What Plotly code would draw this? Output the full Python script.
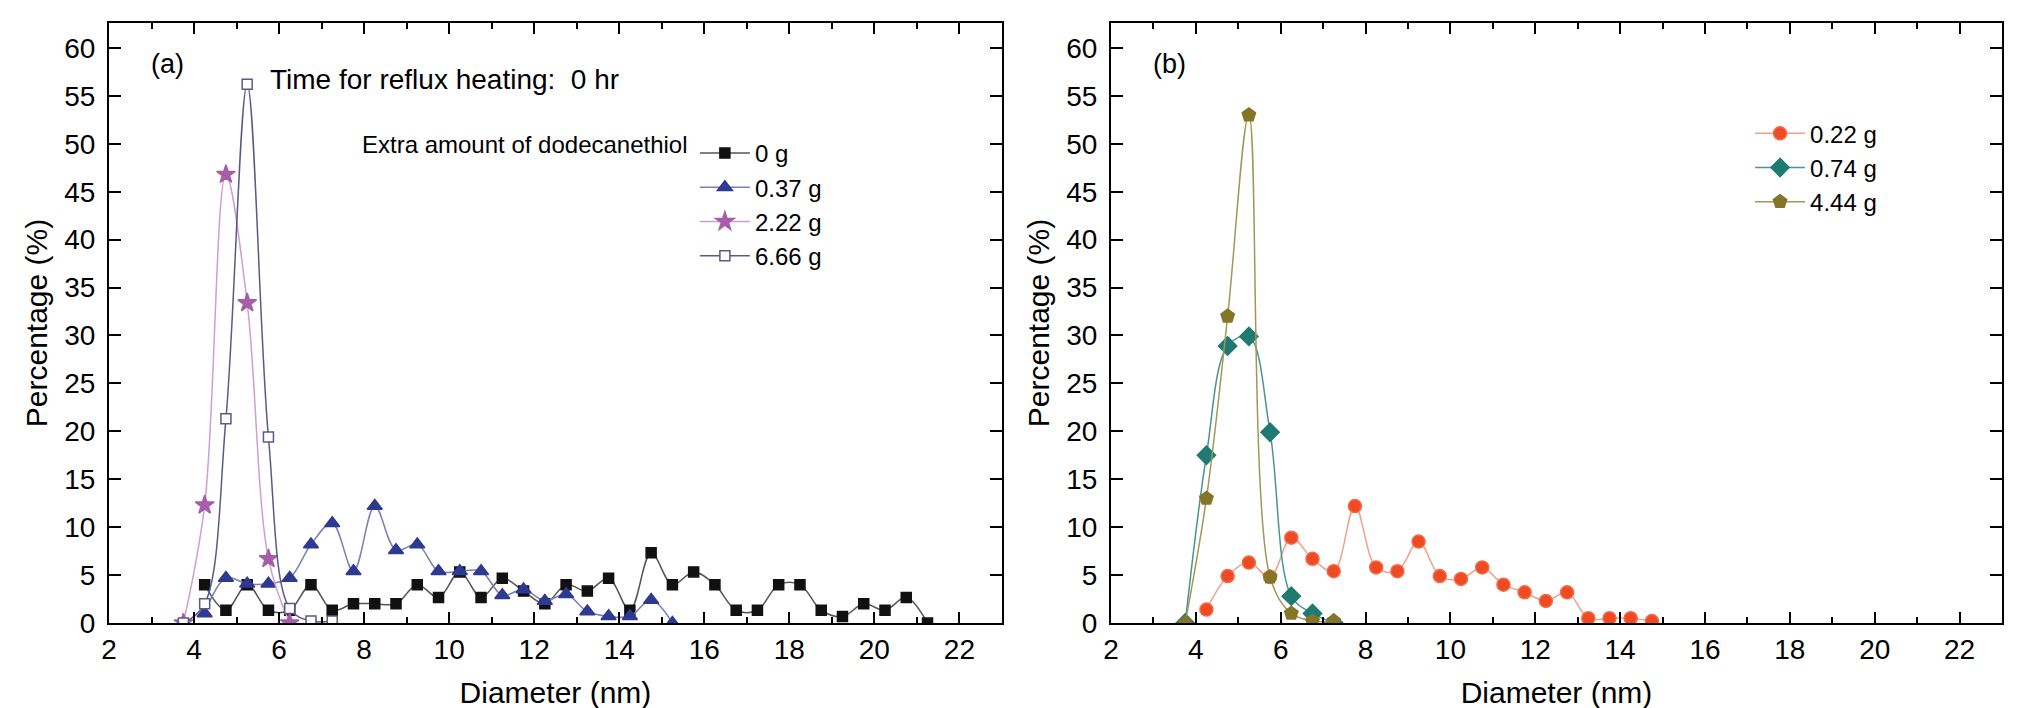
import plotly.graph_objects as go

# size distributions, diameter bins in nm and percentage per bin
# (a) time for reflux heating 0 hr
d_0g = [4.25, 4.75, 5.25, 5.75, 6.25, 6.75, 7.25, 7.75, 8.25, 8.75, 9.25, 9.75,
        10.25, 10.75, 11.25, 11.75, 12.25, 12.75, 13.25, 13.75, 14.25, 14.75,
        15.25, 15.75, 16.25, 16.75, 17.25, 17.75, 18.25, 18.75, 19.25, 19.75,
        20.25, 20.75, 21.25]
p_0g = [4.0, 1.33, 4.0, 1.33, 1.33, 4.0, 1.33, 2.0, 2.0, 2.0, 4.0, 2.67,
        5.33, 2.67, 4.67, 3.33, 2.0, 4.0, 3.33, 4.67, 1.33, 7.33,
        4.0, 5.33, 4.0, 1.33, 1.33, 4.0, 4.0, 1.33, 0.67, 2.0,
        1.33, 2.67, 0.0]

d_037g = [4.25, 4.75, 5.25, 5.75, 6.25, 6.75, 7.25, 7.75, 8.25, 8.75, 9.25, 9.75,
          10.25, 10.75, 11.25, 11.75, 12.25, 12.75, 13.25, 13.75, 14.25, 14.75, 15.25]
p_037g = [1.0, 4.7, 4.1, 4.1, 4.7, 8.2, 10.4, 5.4, 12.2, 7.6, 8.2, 5.4,
          5.4, 5.4, 2.9, 3.5, 2.3, 3.0, 1.2, 0.7, 0.7, 2.4, 0.0]

d_222g = [3.75, 4.25, 4.75, 5.25, 5.75, 6.25]
p_222g = [0.0, 12.3, 46.8, 33.4, 6.7, 0.0]

d_666g = [3.75, 4.25, 4.75, 5.25, 5.75, 6.25, 6.75, 7.25]
p_666g = [0.0, 2.0, 21.3, 56.2, 19.4, 1.5, 0.2, 0.2]

# (b)
d_022g = [4.25, 4.75, 5.25, 5.75, 6.25, 6.75, 7.25, 7.75, 8.25, 8.75, 9.25,
          9.75, 10.25, 10.75, 11.25, 11.75, 12.25, 12.75, 13.25, 13.75, 14.25, 14.75]
p_022g = [1.4, 4.9, 6.3, 4.8, 8.9, 6.7, 5.4, 12.2, 5.8, 5.4, 8.5,
          4.9, 4.6, 5.8, 4.0, 3.2, 2.3, 3.2, 0.5, 0.5, 0.5, 0.2]

d_074g = [3.75, 4.25, 4.75, 5.25, 5.75, 6.25, 6.75, 7.25]
p_074g = [0.0, 17.5, 28.9, 29.9, 19.9, 2.8, 1.0, 0.0]

d_444g = [3.75, 4.25, 4.75, 5.25, 5.75, 6.25, 6.75, 7.25]
p_444g = [0.0, 13.0, 32.0, 53.0, 4.8, 1.0, 0.2, 0.2]

FONT = "Liberation Sans, Arial, sans-serif"

fig = go.Figure()


def add_series(x, y, name, symbol, fill, edge, linecolor, size, xa, ya, legend):
    fig.add_trace(go.Scatter(
        x=x, y=y, name=name, mode="lines+markers",
        line=dict(color=linecolor, width=1.5, shape="spline", smoothing=1),
        marker=dict(symbol=symbol, size=size, color=fill,
                    line=dict(color=edge, width=1.5)),
        xaxis=xa, yaxis=ya, legend=legend))


# panel (a)
add_series(d_0g, p_0g, "0 g", "square", "#111111", "#111111", "#555555", 10, "x", "y", "legend")
add_series(d_037g, p_037g, "0.37 g", "triangle-up", "#2e3a92", "#2e3a92", "#7880b4", 13, "x", "y", "legend")
add_series(d_222g, p_222g, "2.22 g", "star", "#a65ea8", "#a65ea8", "#cf9fd0", 14, "x", "y", "legend")
add_series(d_666g, p_666g, "6.66 g", "square", "white", "#5a5a86", "#5a5a86", 10, "x", "y", "legend")

# panel (b)
add_series(d_022g, p_022g, "0.22 g", "circle", "#f04a22", "#f26a48", "#f2a08a", 13, "x2", "y2", "legend2")
add_series(d_074g, p_074g, "0.74 g", "diamond", "#1f7a72", "#1f7a72", "#4a958e", 14, "x2", "y2", "legend2")
add_series(d_444g, p_444g, "4.44 g", "pentagon", "#857527", "#857527", "#a3965a", 14, "x2", "y2", "legend2")

xaxis_style = dict(range=[2, 23], dtick=2, tick0=2, showline=True, linewidth=2, linecolor="black",
                   mirror="ticks", ticks="inside", ticklen=11, tickwidth=2, tickcolor="black",
                   minor=dict(dtick=1, ticks="inside", ticklen=6, tickwidth=2, tickcolor="black"),
                   showgrid=False, zeroline=False,
                   tickfont=dict(family=FONT, size=28, color="black"),
                   title=dict(text="Diameter (nm)", font=dict(family=FONT, size=30, color="black"),
                              standoff=18))
yaxis_style = dict(range=[0, 62.6], dtick=5, showline=True, linewidth=2, linecolor="black",
                   mirror="ticks", ticks="inside", ticklen=12, tickwidth=2, tickcolor="black",
                   showgrid=False, zeroline=False, ticklabelstandoff=6,
                   tickfont=dict(family=FONT, size=28, color="black"),
                   title=dict(text="Percentage (%)", font=dict(family=FONT, size=30, color="black"),
                              standoff=8))

legend_style = dict(font=dict(family=FONT, size=24, color="black"), itemwidth=50,
                    bgcolor="rgba(0,0,0,0)", borderwidth=0, yanchor="top", xanchor="left",
                    tracegroupgap=0)

fig.update_layout(
    width=2019, height=708,
    margin=dict(l=101, r=25, t=15, b=88),
    paper_bgcolor="white", plot_bgcolor="white",
    font=dict(family=FONT, color="black"),
    xaxis=dict(domain=[0, 0.4717], anchor="y", **xaxis_style),
    yaxis=dict(domain=[0, 1], anchor="x", **yaxis_style),
    xaxis2=dict(domain=[0.5293, 1.0], anchor="y2", **xaxis_style),
    yaxis2=dict(domain=[0, 1], anchor="x2", **yaxis_style),
    legend=dict(x=0.3095, y=0.82, **legend_style),
    legend2=dict(x=0.8669, y=0.853, **legend_style),
)

# text labels inside the panels
fig.add_annotation(text="(a)", xref="x domain", yref="y domain", x=0.066, y=0.932,
                   xanchor="center", yanchor="middle",
                   showarrow=False, font=dict(family=FONT, size=27))
fig.add_annotation(text="(b)", xref="x2 domain", yref="y2 domain", x=0.066, y=0.932,
                   xanchor="center", yanchor="middle",
                   showarrow=False, font=dict(family=FONT, size=27))
fig.add_annotation(text="Time for reflux heating:\u00a0 0 hr", xref="x domain", yref="y domain",
                   x=0.178, y=0.906, xanchor="left", yanchor="middle",
                   showarrow=False, font=dict(family=FONT, size=28))
fig.add_annotation(text="Extra amount of dodecanethiol", xref="x domain", yref="y domain",
                   x=0.281, y=0.797, xanchor="left", yanchor="middle",
                   showarrow=False, font=dict(family=FONT, size=24))

fig.write_html("out.html")
